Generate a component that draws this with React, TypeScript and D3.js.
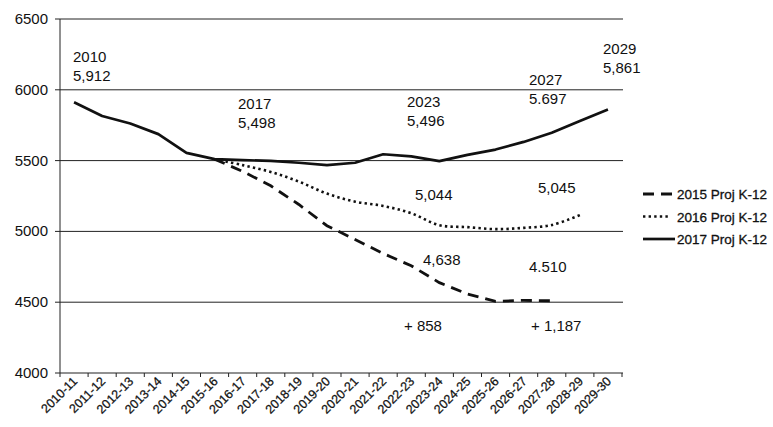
import React from "react";
import * as d3 from "d3";

const categories = [
  "2010-11", "2011-12", "2012-13", "2013-14", "2014-15", "2015-16", "2016-17",
  "2017-18", "2018-19", "2019-20", "2020-21", "2021-22", "2022-23", "2023-24",
  "2024-25", "2025-26", "2026-27", "2027-28", "2028-29", "2029-30",
];

const proj2015: (number | null)[] = [
  null, null, null, null, null, 5510, 5424, 5322, 5190, 5040, 4943, 4844, 4757,
  4638, 4558, 4506, 4513, 4510, null, null,
];
const proj2016: (number | null)[] = [
  null, null, null, null, null, 5510, 5468, 5420, 5352, 5267, 5210, 5180, 5128,
  5044, 5030, 5016, 5025, 5045, 5115, null,
];
const proj2017: (number | null)[] = [
  5912, 5815, 5762, 5687, 5555, 5510, 5503, 5498, 5485, 5468, 5485, 5545, 5530,
  5496, 5540, 5578, 5632, 5697, 5780, 5861,
];

const yTicks = [4000, 4500, 5000, 5500, 6000, 6500];
const seriesNames = ["2015 Proj K-12", "2016 Proj K-12", "2017 Proj K-12"];

const annotationTexts: string[][] = [
  ["2010", "5,912"],
  ["2017", "5,498"],
  ["2023", "5,496"],
  ["2027", "5.697"],
  ["2029", "5,861"],
  ["5,044"],
  ["5,045"],
  ["4,638"],
  ["4.510"],
  ["+ 858"],
  ["+ 1,187"],
];

// layout (pixel) positions for annotations: [x, first baseline]
const annotationPos: [number, number][] = [
  [73, 62],
  [238, 109],
  [407, 107],
  [529, 85],
  [603, 54],
  [415, 200],
  [538, 193],
  [423, 265],
  [529, 272],
  [404, 331],
  [531, 331],
];

const FONT = "'Liberation Sans', Arial, sans-serif";

export default function App() {
  const width = 773;
  const height = 427;
  const left = 60;
  const right = 622;
  const top = 19;
  const bottom = 373;

  const x = d3.scaleBand<string>().domain(categories).range([left, right]).padding(0);
  const y = d3.scaleLinear().domain([4000, 6500]).range([bottom, top]);
  const cx = (c: string) => (x(c) as number) + x.bandwidth() / 2;

  const line = d3
    .line<number | null>()
    .defined((d) => d !== null)
    .x((_, i) => cx(categories[i]))
    .y((d) => y(d as number));

  const smooth = d3
    .line<number | null>()
    .defined((d) => d !== null)
    .x((_, i) => cx(categories[i]))
    .y((d) => y(d as number))
    .curve(d3.curveCatmullRom.alpha(0.5));

  const styles = [
    { dash: "11,7", width: 2.8 },
    { dash: "2.4,3.2", width: 2.6 },
    { dash: null as string | null, width: 2.7 },
  ];
  const legendY = [194, 216.5, 239];

  const boundaries = categories.map((c) => x(c) as number).concat([right]);

  return (
    <svg width={width} height={height} style={{ display: "block", position: "absolute", left: 0, top: 0 }}>
      <rect width={width} height={height} fill="#fff" />
      {/* gridlines */}
      {yTicks.filter((t) => t > 4000).map((t) => (
        <line key={t} x1={left} x2={right + 1} y1={y(t)} y2={y(t)} stroke="#222" strokeWidth={1} />
      ))}
      {/* y axis */}
      <line x1={left} x2={left} y1={top} y2={bottom} stroke="#222" strokeWidth={1} />
      {yTicks.map((t) => (
        <g key={t}>
          <line x1={left - 5} x2={left} y1={y(t)} y2={y(t)} stroke="#222" />
          <text x={48} y={y(t) + 5} textAnchor="end" fontFamily={FONT} fontSize={15} fill="#111">
            {t}
          </text>
        </g>
      ))}
      {/* x axis */}
      <line x1={left} x2={right + 1} y1={bottom} y2={bottom} stroke="#222" strokeWidth={1.2} />
      {boundaries.map((b, i) => (
        <line key={i} x1={b} x2={b} y1={bottom} y2={bottom + 4} stroke="#222" />
      ))}
      {categories.map((c) => (
        <text
          key={c}
          transform={`translate(${cx(c) + 4},${bottom + 9}) rotate(-45)`}
          textAnchor="end"
          fontFamily={FONT}
          fontSize={12.5}
          fill="#111"
          stroke="#111"
          strokeWidth={0.25}
        >
          {c}
        </text>
      ))}
      {/* series */}
      <path d={line(proj2015) || ""} fill="none" stroke="#111" strokeWidth={styles[0].width} strokeDasharray={styles[0].dash!} />
      <path d={smooth(proj2016) || ""} fill="none" stroke="#111" strokeWidth={styles[1].width} strokeDasharray={styles[1].dash!} />
      <path d={line(proj2017) || ""} fill="none" stroke="#111" strokeWidth={styles[2].width} strokeLinejoin="round" />
      {/* annotations */}
      {annotationTexts.map((lines, i) => (
        <text key={i} fontFamily={FONT} fontSize={15} fill="#111">
          {lines.map((l, j) => (
            <tspan key={j} x={annotationPos[i][0]} y={annotationPos[i][1] + j * 19}>
              {l}
            </tspan>
          ))}
        </text>
      ))}
      {/* legend */}
      {seriesNames.map((n, i) => (
        <g key={n}>
          <line
            x1={643}
            x2={i === 1 ? 671 : 675}
            y1={legendY[i]}
            y2={legendY[i]}
            stroke="#111"
            strokeWidth={styles[i].width}
            strokeDasharray={styles[i].dash || undefined}
          />
          <text x={677} y={legendY[i] + 5} fontFamily={FONT} fontSize={13.5} fill="#111" stroke="#111" strokeWidth={0.3}>
            {n}
          </text>
        </g>
      ))}
    </svg>
  );
}
